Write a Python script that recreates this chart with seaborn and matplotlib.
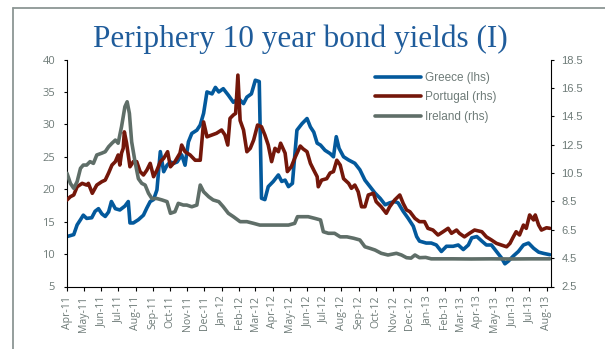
import matplotlib
matplotlib.use("Agg")
import matplotlib.pyplot as plt
import matplotlib.dates as mdates
from matplotlib.lines import Line2D
import seaborn as sns
import pandas as pd

# ---------------- data ----------------
greece_dates = [
    "2011-04-01", "2011-04-13", "2011-04-19", "2011-04-25", "2011-04-30", "2011-05-06",
    "2011-05-15", "2011-05-21", "2011-05-27", "2011-06-02", "2011-06-08", "2011-06-14",
    "2011-06-19", "2011-06-26", "2011-07-04", "2011-07-13", "2011-07-19", "2011-07-22",
    "2011-07-28", "2011-08-06", "2011-08-15", "2011-08-21", "2011-08-27", "2011-09-02",
    "2011-09-08", "2011-09-14", "2011-09-20", "2011-09-26", "2011-10-02", "2011-10-08",
    "2011-10-14", "2011-10-22", "2011-10-28", "2011-11-03", "2011-11-09", "2011-11-18",
    "2011-11-24", "2011-11-30", "2011-12-06", "2011-12-15", "2011-12-21", "2011-12-27",
    "2012-01-04", "2012-01-13", "2012-01-22", "2012-01-31", "2012-02-09", "2012-02-15",
    "2012-02-23", "2012-03-01", "2012-03-08", "2012-03-12", "2012-03-18", "2012-03-24",
    "2012-04-02", "2012-04-11", "2012-04-17", "2012-04-23", "2012-04-29", "2012-05-06",
    "2012-05-14", "2012-05-23", "2012-06-01", "2012-06-07", "2012-06-13", "2012-06-19",
    "2012-06-25", "2012-07-03", "2012-07-12", "2012-07-18", "2012-07-23", "2012-07-28",
    "2012-08-05", "2012-08-14", "2012-08-25", "2012-09-03", "2012-09-12", "2012-09-21",
    "2012-09-30", "2012-10-09", "2012-10-18", "2012-10-26", "2012-11-04", "2012-11-10",
    "2012-11-19", "2012-11-28", "2012-12-07", "2012-12-13", "2012-12-18", "2012-12-30",
    "2013-01-08", "2013-01-17", "2013-01-26", "2013-02-04", "2013-02-16", "2013-02-25",
    "2013-03-06", "2013-03-15", "2013-03-21", "2013-03-30", "2013-04-08", "2013-04-16",
    "2013-04-25", "2013-05-04", "2013-05-13", "2013-05-19", "2013-05-25", "2013-06-03",
    "2013-06-12", "2013-06-21", "2013-06-30", "2013-07-09", "2013-07-18", "2013-07-27",
    "2013-08-07",
]
greece_yield = [
    12.7, 13.0, 14.5, 15.3, 16.0, 15.5,
    15.6, 16.6, 17.0, 16.2, 15.8, 16.5,
    18.1, 17.0, 16.8, 17.4, 18.1, 14.8,
    14.8, 15.3, 16.0, 17.1, 18.1, 18.4,
    19.9, 25.8, 22.7, 23.7, 24.2, 24.0,
    24.2, 25.3, 23.7, 27.3, 28.6, 29.1,
    29.9, 31.7, 35.0, 34.7, 35.7, 35.0,
    35.5, 34.5, 33.4, 34.0, 33.2, 34.2,
    34.7, 36.8, 36.6, 18.6, 18.4, 20.4,
    21.2, 22.2, 21.2, 21.4, 20.4, 20.9,
    29.1, 30.1, 30.9, 29.6, 28.8, 27.1,
    26.8, 26.0, 25.5, 25.0, 28.1, 26.3,
    25.0, 24.5, 24.0, 23.0, 21.4, 20.4,
    19.4, 18.6, 17.6, 17.9, 18.1, 17.9,
    16.6, 15.5, 14.3, 12.7, 12.0, 11.7,
    11.7, 11.4, 10.4, 11.2, 11.2, 11.4,
    10.7, 11.4, 12.5, 12.7, 12.0, 11.4,
    11.4, 10.4, 9.4, 8.5, 8.9, 9.7,
    10.4, 11.4, 11.7, 10.9, 10.3, 10.1,
    9.9,
]

portugal_dates = [
    "2011-04-01", "2011-04-07", "2011-04-13", "2011-04-19", "2011-04-28", "2011-05-06",
    "2011-05-09", "2011-05-16", "2011-05-24", "2011-06-02", "2011-06-08", "2011-06-14",
    "2011-06-20", "2011-06-26", "2011-07-01", "2011-07-04", "2011-07-07", "2011-07-10",
    "2011-07-12", "2011-07-16", "2011-07-22", "2011-07-28", "2011-08-03", "2011-08-09",
    "2011-08-15", "2011-08-21", "2011-08-27", "2011-09-02", "2011-09-08", "2011-09-14",
    "2011-09-20", "2011-09-27", "2011-10-02", "2011-10-10", "2011-10-19", "2011-10-22",
    "2011-10-28", "2011-11-06", "2011-11-15", "2011-11-24", "2011-11-30", "2011-12-06",
    "2011-12-15", "2011-12-23", "2012-01-01", "2012-01-07", "2012-01-12", "2012-01-16",
    "2012-01-22", "2012-01-26", "2012-01-30", "2012-02-03", "2012-02-09", "2012-02-15",
    "2012-02-21", "2012-02-27", "2012-03-05", "2012-03-12", "2012-03-18", "2012-03-24",
    "2012-03-30", "2012-04-05", "2012-04-11", "2012-04-15", "2012-04-23", "2012-04-27",
    "2012-05-04", "2012-05-10", "2012-05-20", "2012-05-25", "2012-06-01", "2012-06-07",
    "2012-06-13", "2012-06-19", "2012-06-21", "2012-06-27", "2012-07-06", "2012-07-12",
    "2012-07-18", "2012-07-24", "2012-07-30", "2012-08-05", "2012-08-14", "2012-08-19",
    "2012-08-25", "2012-08-31", "2012-09-06", "2012-09-12", "2012-09-18", "2012-09-27",
    "2012-10-02", "2012-10-11", "2012-10-20", "2012-10-26", "2012-11-04", "2012-11-13",
    "2012-11-19", "2012-11-25", "2012-12-01", "2012-12-10", "2012-12-18", "2012-12-27",
    "2013-01-02", "2013-01-11", "2013-01-20", "2013-01-29", "2013-02-07", "2013-02-13",
    "2013-02-22", "2013-02-27", "2013-03-08", "2013-03-17", "2013-03-26", "2013-04-08",
    "2013-04-16", "2013-04-25", "2013-05-04", "2013-05-13", "2013-05-22", "2013-05-28",
    "2013-06-03", "2013-06-08", "2013-06-14", "2013-06-21", "2013-06-26", "2013-07-02",
    "2013-07-09", "2013-07-12", "2013-07-18", "2013-07-23", "2013-08-01", "2013-08-07",
]
portugal_yield = [
    8.6, 8.83, 8.95, 9.53, 9.77, 9.65,
    9.77, 9.07, 9.65, 9.89, 10.0, 10.5,
    11.06, 11.3, 11.77, 11.06, 11.9, 12.24,
    13.4, 12.6, 10.94, 11.3, 11.3, 10.6,
    10.36, 10.7, 11.18, 10.24, 10.7, 11.3,
    11.53, 12.0, 10.94, 11.3, 11.9, 12.47,
    12.0, 11.77, 11.4, 11.4, 14.1, 13.05,
    13.18, 13.3, 13.53, 13.18, 12.47, 14.35,
    14.59, 14.7, 17.4, 14.2, 13.53, 12.0,
    12.24, 12.82, 13.88, 13.76, 13.18, 12.47,
    11.3, 12.24, 12.0, 12.6, 11.9, 10.6,
    10.94, 11.53, 12.4, 12.2, 12.0, 11.18,
    10.7, 10.24, 9.53, 10.0, 10.1, 10.5,
    10.6, 11.4, 11.06, 10.1, 9.77, 9.42,
    9.65, 9.18, 8.12, 8.12, 8.95, 9.07,
    8.48, 8.12, 7.66, 8.12, 8.6, 8.95,
    8.36, 7.9, 7.77, 7.3, 7.07, 7.07,
    6.6, 6.48, 6.13, 6.36, 6.6, 6.25,
    6.48, 6.25, 6.0, 6.25, 6.48, 6.36,
    6.0, 5.78, 5.54, 5.42, 5.3, 5.54,
    6.0, 6.36, 6.13, 6.83, 6.6, 7.54,
    7.19, 7.54, 6.83, 6.48, 6.64, 6.6,
]

ireland_dates = [
    "2011-04-01", "2011-04-07", "2011-04-13", "2011-04-19", "2011-04-25", "2011-04-30",
    "2011-05-06", "2011-05-12", "2011-05-18", "2011-05-24", "2011-06-02", "2011-06-08",
    "2011-06-14", "2011-06-20", "2011-06-26", "2011-07-01", "2011-07-07", "2011-07-13",
    "2011-07-17", "2011-07-21", "2011-07-25", "2011-07-31", "2011-08-06", "2011-08-12",
    "2011-08-18", "2011-08-24", "2011-08-30", "2011-09-08", "2011-09-17", "2011-09-26",
    "2011-10-02", "2011-10-10", "2011-10-16", "2011-10-25", "2011-10-31", "2011-11-09",
    "2011-11-18", "2011-11-24", "2011-11-30", "2011-12-09", "2011-12-17", "2011-12-27",
    "2012-01-04", "2012-01-13", "2012-01-22", "2012-02-03", "2012-02-15", "2012-02-27",
    "2012-03-09", "2012-03-24", "2012-04-11", "2012-04-29", "2012-05-10", "2012-05-15",
    "2012-05-28", "2012-06-03", "2012-06-15", "2012-06-25", "2012-06-30", "2012-07-09",
    "2012-07-20", "2012-07-30", "2012-08-11", "2012-08-23", "2012-09-03", "2012-09-12",
    "2012-09-21", "2012-09-30", "2012-10-11", "2012-10-23", "2012-11-07", "2012-11-16",
    "2012-11-25", "2012-12-03", "2012-12-10", "2012-12-18", "2012-12-29", "2013-01-08",
    "2013-02-15", "2013-03-20", "2013-04-25", "2013-05-30", "2013-07-05", "2013-08-07",
]
ireland_yield = [
    10.48, 9.77, 9.42, 9.89, 10.83, 11.06,
    11.06, 11.3, 11.18, 11.77, 11.9, 12.0,
    12.35, 12.6, 12.82, 12.6, 13.76, 15.17,
    15.52, 14.7, 12.7, 11.3, 10.1, 9.77,
    9.65, 9.07, 8.7, 8.7, 8.6, 8.48,
    7.66, 7.77, 8.36, 8.24, 8.24, 8.12,
    8.24, 9.65, 9.18, 8.83, 8.6, 8.48,
    8.12, 7.66, 7.42, 7.07, 7.07, 6.95,
    6.83, 6.83, 6.83, 6.83, 6.95, 7.42,
    7.42, 7.42, 7.3, 7.19, 6.36, 6.25,
    6.25, 6.0, 6.0, 5.9, 5.78, 5.3,
    5.19, 5.07, 4.84, 4.72, 4.84, 4.72,
    4.53, 4.5, 4.72, 4.53, 4.55, 4.45,
    4.45, 4.44, 4.45, 4.44, 4.45, 4.45,
]

left_ticks = [5, 10, 15, 20, 25, 30, 35, 40]
right_ticks = [2.5, 4.5, 6.5, 8.5, 10.5, 12.5, 14.5, 16.5, 18.5]
series_labels = ["Greece (lhs)", "Portugal (rhs)", "Ireland (rhs)"]
title_text = "Periphery 10 year bond yields (I)"

# ---------------- style ----------------
C_GREECE = "#03599C"
C_PORTUGAL = "#74170A"
C_IRELAND = "#5F6E68"
C_TICKTXT = "#6E7B78"
C_TITLE = "#1F5C9B"

sns.set_theme(style="ticks")
plt.rcParams["font.family"] = ["Open Sans", "DejaVu Sans"]

fig = plt.figure(figsize=(6.05, 3.49), dpi=100)
ax = fig.add_axes([67 / 605, 1 - 286.5 / 349, (551 - 67) / 605, (286.5 - 59.5) / 349])
ax2 = ax.twinx()

df_g = pd.DataFrame({"date": pd.to_datetime(greece_dates), "yield": greece_yield})
df_p = pd.DataFrame({"date": pd.to_datetime(portugal_dates), "yield": portugal_yield})
df_i = pd.DataFrame({"date": pd.to_datetime(ireland_dates), "yield": ireland_yield})

LW = 2.6
sns.lineplot(data=df_g, x="date", y="yield", ax=ax, color=C_GREECE, lw=LW, legend=False)
sns.lineplot(data=df_p, x="date", y="yield", ax=ax2, color=C_PORTUGAL, lw=LW, legend=False)
sns.lineplot(data=df_i, x="date", y="yield", ax=ax2, color=C_IRELAND, lw=LW, legend=False)

ax.set_xlim(pd.Timestamp("2011-04-01"), pd.Timestamp("2013-08-09"))
ax.set_ylim(5, 40)
ax2.set_ylim(2.5, 18.5)
ax.set_yticks(left_ticks)
ax.set_yticklabels([str(t) for t in left_ticks])
ax2.set_yticks(right_ticks)
ax2.set_yticklabels([f"{t:.1f}" for t in right_ticks])
ax.xaxis.set_major_locator(mdates.MonthLocator())
ax.xaxis.set_major_formatter(mdates.DateFormatter("%b-%y"))

for a in (ax, ax2):
    a.set_xlabel("")
    a.set_ylabel("")
    a.grid(False)
    for s in a.spines.values():
        s.set_color("black")
        s.set_linewidth(0.8)
    a.spines["top"].set_visible(False)
ax.spines["right"].set_visible(False)
ax2.spines["left"].set_visible(False)
ax2.spines["bottom"].set_visible(False)
ax2.spines["right"].set_visible(True)

ax.tick_params(axis="x", direction="out", length=3, width=0.8, color="black",
               pad=3.5, labelsize=7.6, labelcolor=C_TICKTXT, labelrotation=90)
ax.tick_params(axis="y", direction="out", length=2.5, width=0.8, color="black",
               pad=6, labelsize=8, labelcolor=C_TICKTXT)
ax2.tick_params(axis="y", direction="out", length=2.5, width=0.8, color="black",
                pad=5, labelsize=8, labelcolor=C_TICKTXT)
for lab in ax2.get_yticklabels():
    lab.set_family(["Liberation Sans", "DejaVu Sans"])

# legend
handles = [Line2D([0], [0], color=c, lw=LW) for c in (C_GREECE, C_PORTUGAL, C_IRELAND)]
leg = ax2.legend(handles, series_labels, loc="upper left",
                 bbox_to_anchor=(375 / 605, 1 - 72 / 349), bbox_transform=fig.transFigure,
                 frameon=False, borderpad=0, borderaxespad=0, handlelength=3.9,
                 handletextpad=0.3, labelspacing=0.62,
                 prop={"family": ["Liberation Sans", "DejaVu Sans"], "size": 8.5})
for t in leg.get_texts():
    t.set_color(C_TICKTXT)

# title
fig.text(0.497, 1 - 39 / 349, title_text, ha="center", va="center",
         fontsize=22.5, color=C_TITLE, family=["Liberation Serif", "DejaVu Serif"])

# page frame lines (top and left)
fig.add_artist(Line2D([13 / 605, 13 / 605], [0, 1 - 7.5 / 349], transform=fig.transFigure,
                      color="#8C9694", lw=1.3))
fig.add_artist(Line2D([13 / 605, 1], [1 - 7.5 / 349, 1 - 7.5 / 349], transform=fig.transFigure,
                      color="#8C9694", lw=1.3))

fig.savefig("out.png", dpi=100)
